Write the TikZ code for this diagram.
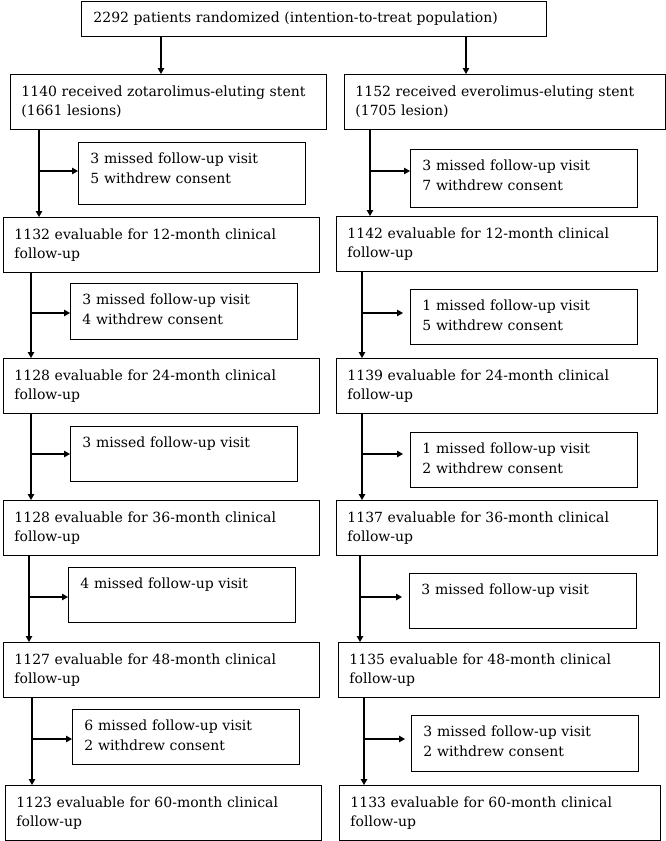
\documentclass[tikz,border=0pt]{standalone}
\usepackage{fontspec}
\setmainfont{DejaVu Serif}
\usetikzlibrary{arrows.meta}
\tikzset{
    mainbox/.style={draw, line width=0.9bp, anchor=north west, text width=294bp,
        inner xsep=11bp, inner ysep=0pt, minimum height=55bp, align=left},
    exbox/.style={draw, line width=0.9bp, anchor=north west, text width=203bp,
        inner xsep=12bp, inner ysep=0pt, text height=21.5bp, text depth=33.5bp, align=left},
    flow/.style={->, line width=1.2bp}
}
\begin{document}
\begin{tikzpicture}[x=1bp, y=-1bp, >={Triangle[length=6bp,width=6.5bp]},
    every node/.style={font=\fontsize{14bp}{19.5bp}\selectfont}]
    \useasboundingbox (0,0) rectangle (666,841);
    % Randomization
    \node[mainbox, text width=441bp, inner xsep=12bp, minimum height=35bp] (top) at (81,1)
        {2292 patients randomized (intention-to-treat population)};
    % Left arm
    \node[mainbox] (L0) at (10,74) {1140 received zotarolimus-eluting stent\\(1661 lesions)};
    \node[mainbox] (L1) at (3,217) {1132 evaluable for 12-month clinical\\follow-up};
    \node[mainbox] (L2) at (3,358) {1128 evaluable for 24-month clinical\\follow-up};
    \node[mainbox] (L3) at (3,500) {1128 evaluable for 36-month clinical\\follow-up};
    \node[mainbox] (L4) at (3,642) {1127 evaluable for 48-month clinical\\follow-up};
    \node[mainbox] (L5) at (5,785) {1123 evaluable for 60-month clinical\\follow-up};
    % Left arm losses
    \node[exbox, text depth=40.5bp] (LE1) at (78,142) {3 missed follow-up visit\\5 withdrew consent};
    \node[exbox, text depth=34.5bp] (LE2) at (70,283) {3 missed follow-up visit\\4 withdrew consent};
    \node[exbox] (LE3) at (70,426) {3 missed follow-up visit};
    \node[exbox] (LE4) at (68,567) {4 missed follow-up visit};
    \node[exbox] (LE5) at (72,709) {6 missed follow-up visit\\2 withdrew consent};
    % Right arm
    \node[mainbox, text width=299bp] (R0) at (344,74) {1152 received everolimus-eluting stent\\(1705 lesion)};
    \node[mainbox, text width=299bp] (R1) at (336,216) {1142 evaluable for 12-month clinical\\follow-up};
    \node[mainbox, text width=299bp] (R2) at (336,358) {1139 evaluable for 24-month clinical\\follow-up};
    \node[mainbox, text width=299bp] (R3) at (336,500) {1137 evaluable for 36-month clinical\\follow-up};
    \node[mainbox, text width=299bp] (R4) at (338,642) {1135 evaluable for 48-month clinical\\follow-up};
    \node[mainbox, text width=299bp] (R5) at (339,785) {1133 evaluable for 60-month clinical\\follow-up};
    % Right arm losses
    \node[exbox, text depth=36.5bp] (RE1) at (410,149) {3 missed follow-up visit\\7 withdrew consent};
    \node[exbox] (RE2) at (410,289) {1 missed follow-up visit\\5 withdrew consent};
    \node[exbox] (RE3) at (410,432) {1 missed follow-up visit\\2 withdrew consent};
    \node[exbox] (RE4) at (409,573) {3 missed follow-up visit};
    \node[exbox, text depth=34.5bp] (RE5) at (411,715) {3 missed follow-up visit\\2 withdrew consent};
    % Junctions on the stems
    \coordinate (tl) at (161,0);
    \coordinate (tr) at (466,0);
    \coordinate (jL1) at (39,171);
    \coordinate (jL2) at (31,313);
    \coordinate (jL3) at (31,454);
    \coordinate (jL4) at (29,597);
    \coordinate (jL5) at (32,739);
    \coordinate (jR1) at (370,171);
    \coordinate (jR2) at (362,313);
    \coordinate (jR3) at (362,454);
    \coordinate (jR4) at (360,597);
    \coordinate (jR5) at (364,739);
    % Split
    \draw[flow] (top.south -| tl) -- (L0.north -| tl);
    \draw[flow] (top.south -| tr) -- (R0.north -| tr);
    % Left stems
    \draw[flow] (L0.south -| jL1) -- (L1.north -| jL1);
    \draw[flow] (L1.south -| jL2) -- (L2.north -| jL2);
    \draw[flow] (L2.south -| jL3) -- (L3.north -| jL3);
    \draw[flow] (L3.south -| jL4) -- (L4.north -| jL4);
    \draw[flow] (L4.south -| jL5) -- (L5.north -| jL5);
    \draw[flow] (jL1) -- (jL1 -| LE1.west);
    \draw[flow] (jL2) -- (jL2 -| LE2.west);
    \draw[flow] (jL3) -- (jL3 -| LE3.west);
    \draw[flow] (jL4) -- (jL4 -| LE4.west);
    \draw[flow] (jL5) -- (jL5 -| LE5.west);
    % Right stems
    \draw[flow] (R0.south -| jR1) -- (R1.north -| jR1);
    \draw[flow] (R1.south -| jR2) -- (R2.north -| jR2);
    \draw[flow] (R2.south -| jR3) -- (R3.north -| jR3);
    \draw[flow] (R3.south -| jR4) -- (R4.north -| jR4);
    \draw[flow] (R4.south -| jR5) -- (R5.north -| jR5);
    \draw[flow] (jR1) -- (jR1 -| RE1.west);
    \draw[flow, shorten >=7bp] (jR2) -- (jR2 -| RE2.west);
    \draw[flow, shorten >=7bp] (jR3) -- (jR3 -| RE3.west);
    \draw[flow, shorten >=7bp] (jR4) -- (jR4 -| RE4.west);
    \draw[flow, shorten >=6bp] (jR5) -- (jR5 -| RE5.west);
\end{tikzpicture}
\end{document}
